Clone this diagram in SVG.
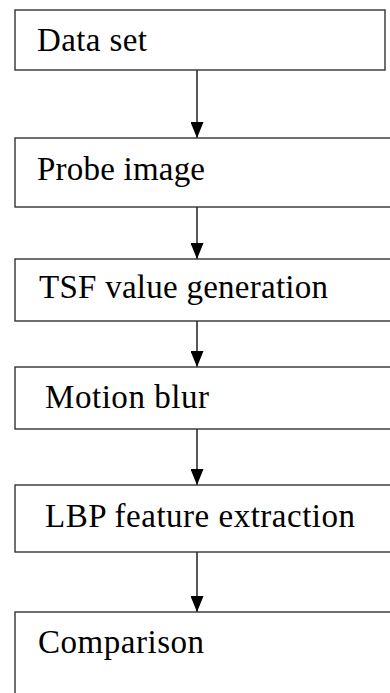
<svg xmlns="http://www.w3.org/2000/svg" width="390" height="693" viewBox="0 0 390 693">
  <defs>
    <!-- solid triangular arrowhead, tip sits on the line end -->
    <marker id="arrow" viewBox="0 0 16 13" refX="16" refY="6.5" markerWidth="16" markerHeight="13" markerUnits="userSpaceOnUse" orient="auto">
      <path d="M0,0 L16,6.5 L0,13 Z" fill="#000"/>
    </marker>
  </defs>
  <style>
    .box { fill: #fff; stroke: #333; stroke-width: 1.4; }
    .lbl { font-family: "Liberation Serif", "Times New Roman", serif; font-size: 33px; fill: #000; }
    .edge { stroke: #111; stroke-width: 1.4; fill: none; marker-end: url(#arrow); }
  </style>
  <rect width="390" height="693" fill="#fff"/>

  <g id="connectors">
    <line class="edge" x1="197" y1="70" x2="197" y2="138"/>
    <line class="edge" x1="197" y1="207" x2="197" y2="259"/>
    <line class="edge" x1="197" y1="321" x2="197" y2="367"/>
    <line class="edge" x1="197" y1="429" x2="197" y2="485"/>
    <line class="edge" x1="197" y1="552" x2="197" y2="612"/>
  </g>

  <g id="data-set">
    <rect class="box" x="15" y="10" width="370" height="60"/>
    <text class="lbl" x="37" y="51" textLength="110" lengthAdjust="spacing">Data set</text>
  </g>
  <g id="probe-image">
    <rect class="box" x="15" y="138" width="390" height="69"/>
    <text class="lbl" x="37" y="180" textLength="168" lengthAdjust="spacing">Probe image</text>
  </g>
  <g id="tsf-value-generation">
    <rect class="box" x="15" y="259" width="390" height="62"/>
    <text class="lbl" x="39" y="298" textLength="289" lengthAdjust="spacing">TSF value generation</text>
  </g>
  <g id="motion-blur">
    <rect class="box" x="15" y="367" width="390" height="62"/>
    <text class="lbl" x="45" y="408" textLength="164" lengthAdjust="spacing">Motion blur</text>
  </g>
  <g id="lbp-feature-extraction">
    <rect class="box" x="15" y="485" width="390" height="67"/>
    <text class="lbl" x="45" y="527" textLength="310" lengthAdjust="spacing">LBP  feature extraction</text>
  </g>
  <g id="comparison">
    <rect class="box" x="15" y="612" width="390" height="100"/>
    <text class="lbl" x="38" y="653" textLength="166" lengthAdjust="spacing">Comparison</text>
  </g>
</svg>
